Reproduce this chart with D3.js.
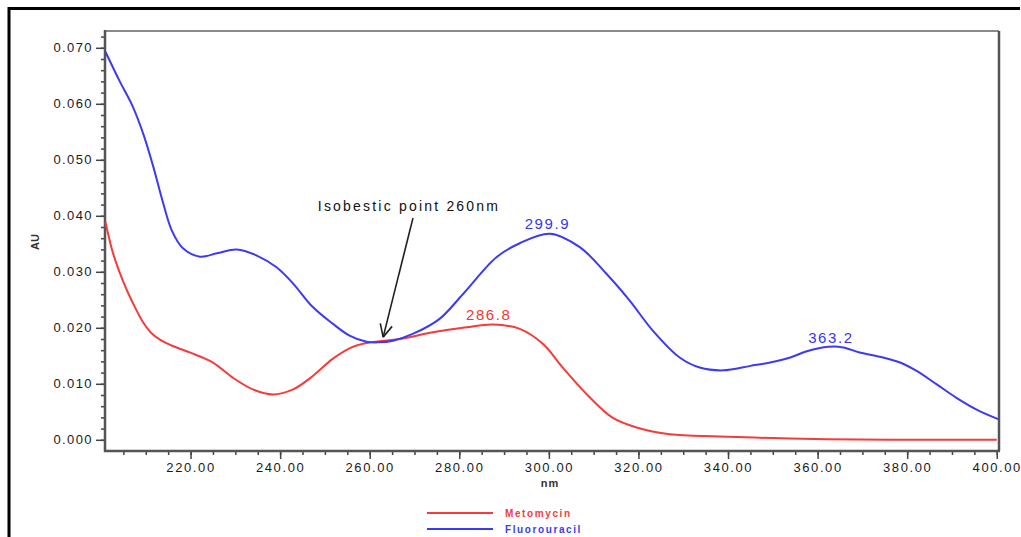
<!DOCTYPE html>
<html>
<head>
<meta charset="utf-8">
<script src="https://cdn.jsdelivr.net/npm/d3@7"></script>
<style>
  body { margin: 0; background: #fff; }
  svg text { font-family: "Liberation Sans", Arial, sans-serif; }
</style>
</head>
<body>
<div id="chart"></div>
<script>
// wavelengths (nm) and absorbance (AU)
var metoNm  = [201, 202.7, 204.9, 207.2, 209.4, 211.6, 214.7, 219.8, 225, 229.4, 233.9, 238.4, 242.9, 247.3, 251.8, 256.2, 260, 266.7, 274.1, 281.6, 287.5, 293.5, 298.7, 303.1, 308.5, 314.3, 319.6, 327, 338, 350, 362, 380, 400];
var metoAU  = [0.0389, 0.0333, 0.0284, 0.0243, 0.021, 0.0188, 0.0172, 0.0156, 0.0138, 0.0111, 0.009, 0.0081, 0.009, 0.0114, 0.0145, 0.0166, 0.0174, 0.018, 0.0192, 0.0201, 0.0206, 0.0198, 0.0171, 0.0129, 0.0081, 0.0039, 0.0022, 0.001, 0.0006, 0.0003, 0.0001, 0, 0];
var fluoNm  = [201, 204.2, 207.1, 209.5, 211.6, 213.8, 215.8, 218.3, 222.1, 225.9, 230.3, 234.8, 239.2, 242.9, 247.3, 251.8, 255.5, 259.3, 262, 265.2, 269.6, 275.6, 280.8, 288.3, 293.5, 300.2, 306.9, 312.9, 318, 323.2, 329.2, 333.7, 338.9, 345, 349.4, 353.9, 357.6, 362.4, 365.7, 369.4, 374.6, 378.4, 382.1, 386.6, 391, 395.5, 400.3];
var fluoAU  = [0.0693, 0.064, 0.0595, 0.0545, 0.049, 0.0425, 0.0374, 0.0342, 0.0327, 0.0333, 0.034, 0.0329, 0.0308, 0.0279, 0.0237, 0.0207, 0.0186, 0.0175, 0.0174, 0.0177, 0.0189, 0.0216, 0.026, 0.0326, 0.0351, 0.0368, 0.0344, 0.0296, 0.0249, 0.0195, 0.0147, 0.0129, 0.0124, 0.0132, 0.0138, 0.0147, 0.0158, 0.0166, 0.0165, 0.0156, 0.0147, 0.0138, 0.0123, 0.0099, 0.0075, 0.0054, 0.0037];
var yTicks = [0, 0.01, 0.02, 0.03, 0.04, 0.05, 0.06, 0.07];
var xTicks = [220, 240, 260, 280, 300, 320, 340, 360, 380, 400];
var peaks = [
  {label: "299.9", nm: 299.9, au: 0.0369, color: "#3535f5"},
  {label: "286.8", nm: 286.8, au: 0.0207, color: "#f53535"},
  {label: "363.2", nm: 363.2, au: 0.0166, color: "#3535f5"}
];
var seriesNames = ["Metomycin", "Fluorouracil"];
var redC = "#f53b3b", blueC = "#3b3bf5";

var width = 1021, height = 537;
var svg = d3.select("#chart").append("svg")
  .attr("width", width).attr("height", height);

// outer frame (top + left edge only are visible)
svg.append("line").attr("x1", 8).attr("x2", 1020).attr("y1", 8.5).attr("y2", 8.5)
  .attr("stroke", "#000").attr("stroke-width", 3);
svg.append("line").attr("x1", 9).attr("x2", 9).attr("y1", 7).attr("y2", 537)
  .attr("stroke", "#000").attr("stroke-width", 3);

var pL = 105, pR = 999, pT = 31, pB = 451;
var x = d3.scaleLinear().domain([200.9, 400.5]).range([pL, pR]);
var y = d3.scaleLinear().domain([-0.002, 0.073]).range([pB, pT]);

// plot frame top and right
svg.append("line").attr("x1", pL).attr("x2", pR).attr("y1", pT).attr("y2", pT)
  .attr("stroke", "#8a8a8a").attr("stroke-width", 2);
svg.append("line").attr("x1", pR).attr("x2", pR).attr("y1", pT).attr("y2", pB)
  .attr("stroke", "#555").attr("stroke-width", 2.5);

// y axis
var minorY = d3.range(0, 0.0731, 0.002);
svg.append("g").attr("transform", "translate(" + pL + ",0)")
  .call(d3.axisLeft(y).tickValues(minorY).tickSize(4).tickFormat(""))
  .call(function(g) { g.select(".domain").remove(); })
  .selectAll("line").attr("stroke", "#444").attr("stroke-width", 1.5);
var yAx = svg.append("g").attr("transform", "translate(" + pL + ",0)")
  .call(d3.axisLeft(y).tickValues(yTicks).tickSize(9).tickPadding(3).tickFormat(d3.format(".3f")));
yAx.select(".domain").remove();
yAx.selectAll("line").attr("stroke", "#444").attr("stroke-width", 1.5);
yAx.selectAll("text").attr("font-size", 13).attr("fill", "#1a1a1a")
  .style("letter-spacing", "1.4px").attr("font-family", "Liberation Sans, Arial, sans-serif");
svg.append("line").attr("x1", pL).attr("x2", pL).attr("y1", pT - 1).attr("y2", pB + 1)
  .attr("stroke", "#555").attr("stroke-width", 2.5);

// x axis
var minorX = d3.range(205, 401, 5);
svg.append("g").attr("transform", "translate(0," + pB + ")")
  .call(d3.axisBottom(x).tickValues(minorX).tickSize(4).tickFormat(""))
  .call(function(g) { g.select(".domain").remove(); })
  .selectAll("line").attr("stroke", "#444").attr("stroke-width", 1.5);
var xAx = svg.append("g").attr("transform", "translate(0," + pB + ")")
  .call(d3.axisBottom(x).tickValues(xTicks).tickSize(8).tickPadding(4).tickFormat(d3.format(".2f")));
xAx.select(".domain").remove();
xAx.selectAll("line").attr("stroke", "#444").attr("stroke-width", 1.5);
xAx.selectAll("text").attr("font-size", 13).attr("fill", "#1a1a1a")
  .style("letter-spacing", "1.6px").attr("font-family", "Liberation Sans, Arial, sans-serif");
svg.append("line").attr("x1", pL - 1).attr("x2", pR + 1).attr("y1", pB).attr("y2", pB)
  .attr("stroke", "#555").attr("stroke-width", 2.5);

// axis titles
svg.append("text").attr("transform", "translate(39,242) rotate(-90)")
  .attr("text-anchor", "middle").attr("font-size", 11).attr("font-weight", "bold")
  .attr("fill", "#333").text("AU");
svg.append("text").attr("x", 550).attr("y", 487).attr("text-anchor", "middle")
  .attr("font-size", 11).attr("font-weight", "bold").attr("fill", "#333")
  .style("letter-spacing", "1px").text("nm");

// curves
var line = d3.line()
  .x(function(d) { return x(d[0]); })
  .y(function(d) { return y(d[1]); })
  .curve(d3.curveCatmullRom.alpha(0.5));
svg.append("path").datum(d3.zip(metoNm, metoAU))
  .attr("fill", "none").attr("stroke", redC).attr("stroke-width", 2).attr("d", line);
svg.append("path").datum(d3.zip(fluoNm, fluoAU))
  .attr("fill", "none").attr("stroke", blueC).attr("stroke-width", 2).attr("d", line);

// peak labels
svg.selectAll(".peak").data(peaks).enter().append("text")
  .attr("class", "peak")
  .attr("x", function(d) { return x(d.nm) - 1; })
  .attr("y", function(d) { return y(d.au) - 4; })
  .attr("text-anchor", "middle").attr("font-size", 15)
  .style("letter-spacing", "1.6px")
  .attr("fill", function(d) { return d.color; })
  .text(function(d) { return d.label; });

// isobestic annotation
svg.append("text").attr("x", 409).attr("y", 211).attr("text-anchor", "middle")
  .attr("font-size", 14).attr("fill", "#111").style("letter-spacing", "2.2px")
  .text("Isobestic point 260nm");
var ax1 = 413, ay1 = 218, ax2 = x(263), ay2 = y(0.0178) - 3;
svg.append("line").attr("x1", ax1).attr("y1", ay1).attr("x2", ax2).attr("y2", ay2)
  .attr("stroke", "#222").attr("stroke-width", 1.6);
var ang = Math.atan2(ay2 - ay1, ax2 - ax1);
[0.45, -0.45].forEach(function(a) {
  svg.append("line").attr("x1", ax2).attr("y1", ay2)
    .attr("x2", ax2 - 14 * Math.cos(ang + a)).attr("y2", ay2 - 14 * Math.sin(ang + a))
    .attr("stroke", "#222").attr("stroke-width", 1.6);
});

// legend
var leg = svg.append("g").selectAll("g").data(seriesNames).enter().append("g")
  .attr("transform", function(d, i) { return "translate(427," + (513 + i * 16) + ")"; });
leg.append("line").attr("x1", 0).attr("x2", 66)
  .attr("stroke", function(d, i) { return i ? blueC : redC; }).attr("stroke-width", 2);
leg.append("text").attr("x", 78).attr("y", 4).attr("font-size", 10).attr("font-weight", "bold")
  .style("letter-spacing", "1.6px")
  .attr("fill", function(d, i) { return i ? blueC : redC; })
  .text(function(d) { return d; });
</script>
</body>
</html>
